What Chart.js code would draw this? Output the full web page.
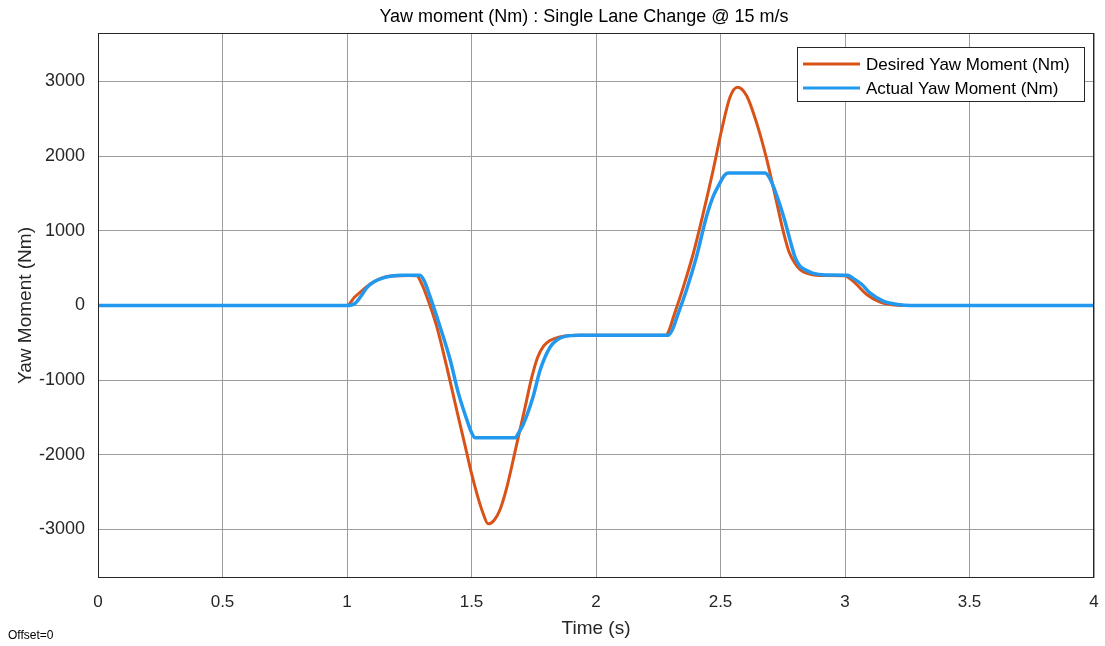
<!DOCTYPE html>
<html>
<head>
<meta charset="utf-8">
<script src="https://cdn.jsdelivr.net/npm/chart.js@4"></script>
<style>
  html, body { margin: 0; padding: 0; background: #ffffff; }
  canvas { display: block; }
</style>
</head>
<body>
<canvas id="yawChart" width="1105" height="646"></canvas>
<script>
// time stamps (s) and yaw moment (Nm) for the two signals
const desiredTime = [0, 1.0, 1.03, 1.066, 1.1, 1.133, 1.17, 1.213, 1.25, 1.28, 1.3, 1.32, 1.36, 1.4, 1.44, 1.48, 1.5, 1.525,
  1.545, 1.567, 1.59, 1.614, 1.64, 1.66, 1.68, 1.7, 1.72, 1.74, 1.765, 1.79, 1.815, 1.85, 1.882, 1.92, 2.28, 2.295, 2.31,
  2.351, 2.391, 2.431, 2.471, 2.505, 2.538, 2.568, 2.605, 2.645, 2.686, 2.726, 2.753, 2.775, 2.8, 2.82, 2.84, 2.865,
  2.9, 3.0, 3.02, 3.047, 3.087, 3.141, 3.19, 3.23, 4.0];
const desiredYaw = [0, 0, 110, 214, 300, 360, 392, 400, 402, 400, 290, 125, -277, -813, -1393, -1960, -2250, -2560,
  -2770, -2925, -2880, -2740, -2460, -2180, -1880, -1590, -1290, -990, -700, -540, -470, -425, -405, -400, -400, -320, -165,
  250, 700, 1241, 1821, 2357, 2790, 2925, 2810, 2446, 1955, 1375, 980, 720, 560, 480, 440, 415,
  402, 400, 360, 281, 147, 45, 9, 0, 0];

const actualTime = [0, 1.0, 1.032, 1.055, 1.079, 1.11, 1.146, 1.18, 1.22, 1.293, 1.31, 1.333, 1.373, 1.414, 1.447, 1.481,
  1.5, 1.515, 1.675, 1.69, 1.708, 1.748, 1.775, 1.815, 1.84, 1.869, 1.936, 2.29, 2.31, 2.324, 2.364, 2.404, 2.444, 2.471,
  2.498, 2.515, 2.53, 2.679, 2.695, 2.712, 2.753, 2.786, 2.8, 2.819, 2.845, 2.873, 2.92, 3.01, 3.03, 3.068, 3.1, 3.154,
  3.22, 3.26, 4.0];
const actualYaw = [0, 0, 27, 120, 237, 320, 370, 395, 405, 405, 330, 125, -277, -723, -1170, -1527,
  -1700, -1772, -1772, -1700, -1590, -1214, -870, -560, -470, -420, -400, -400, -300, -165, 214, 660, 1196, 1464,
  1643, 1740, 1775, 1775, 1720, 1598, 1196, 795, 640, 527, 470, 430, 410, 405, 370, 281, 170, 58,
  9, 0, 0];

const xTicks = [0, 0.5, 1, 1.5, 2, 2.5, 3, 3.5, 4];
const yTicks = [-3000, -2000, -1000, 0, 1000, 2000, 3000];

const FONT = '"Liberation Sans", Arial, Helvetica, sans-serif';
const AXIS_COLOR = '#262626';
const GRID_COLOR = '#9c9c9c';

function toPoints(ts, vs) {
  return ts.map((t, i) => ({ x: t, y: vs[i] }));
}

// axes box, title, legend and footer note
const frame = {
  id: 'frame',
  afterDraw(chart) {
    const { ctx, chartArea: a } = chart;
    ctx.save();
    ctx.strokeStyle = AXIS_COLOR;
    ctx.lineWidth = 1;
    ctx.strokeRect(a.left + 0.5, a.top + 0.5, a.right - a.left - 1, a.bottom - a.top - 1);

    ctx.fillStyle = '#000';
    ctx.font = '18px ' + FONT;
    ctx.textAlign = 'center';
    ctx.textBaseline = 'middle';
    ctx.fillText('Yaw moment (Nm) : Single Lane Change @ 15 m/s', 584, 17);

    // legend
    const bx = 797, by = 47, bw = 287, bh = 54;
    ctx.fillStyle = '#fff';
    ctx.fillRect(bx, by, bw, bh);
    ctx.strokeStyle = AXIS_COLOR;
    ctx.strokeRect(bx + 0.5, by + 0.5, bw, bh);
    ctx.font = '17px ' + FONT;
    ctx.textAlign = 'left';
    chart.data.datasets.forEach((ds, i) => {
      const y = by + 17 + i * 24;
      ctx.strokeStyle = ds.borderColor;
      ctx.lineWidth = 3;
      ctx.beginPath();
      ctx.moveTo(803, y);
      ctx.lineTo(860, y);
      ctx.stroke();
      ctx.fillStyle = '#000';
      ctx.fillText(ds.label, 866, y + 1);
    });

    ctx.font = '12px ' + FONT;
    ctx.fillStyle = '#000';
    ctx.fillText('Offset=0', 8, 636);
    ctx.restore();
  }
};

new Chart(document.getElementById('yawChart'), {
  type: 'line',
  data: {
    datasets: [
      {
        label: 'Desired Yaw Moment (Nm)',
        data: toPoints(desiredTime, desiredYaw),
        borderColor: '#d95319',
        borderWidth: 3,
        order: 1
      },
      {
        label: 'Actual Yaw Moment (Nm)',
        data: toPoints(actualTime, actualYaw),
        borderColor: '#2299ee',
        borderWidth: 3.5,
        order: 0
      }
    ]
  },
  options: {
    responsive: false,
    animation: false,
    cubicInterpolationMode: 'monotone',
    elements: { point: { radius: 0 }, line: { fill: false } },
    layout: { padding: { top: 33, right: 11, left: 0, bottom: 0 } },
    plugins: {
      legend: { display: false },
      title: { display: false },
      tooltip: { enabled: false }
    },
    scales: {
      x: {
        type: 'linear',
        min: 0,
        max: 4,
        afterBuildTicks: s => { s.ticks = xTicks.map(v => ({ value: v })); },
        afterFit: s => {
          s.height = 68;
          s.paddingLeft = 0;
          s.paddingRight = 0;
        },
        grid: { color: GRID_COLOR, drawTicks: false },
        border: { display: false },
        ticks: {
          padding: 14,
          color: AXIS_COLOR,
          maxRotation: 0,
          font: { family: FONT, size: 17 },
          callback: v => String(v)
        },
        title: {
          display: true,
          text: 'Time (s)',
          color: AXIS_COLOR,
          font: { family: FONT, size: 19 },
          padding: { top: 0, bottom: 6 }
        }
      },
      y: {
        min: -3650,
        max: 3650,
        afterBuildTicks: s => { s.ticks = yTicks.map(v => ({ value: v })); },
        afterFit: s => { s.width = 98; },
        grid: { color: GRID_COLOR, drawTicks: false },
        border: { display: false },
        ticks: {
          padding: 13,
          color: AXIS_COLOR,
          font: { family: FONT, size: 18 },
          callback: v => String(v)
        },
        title: {
          display: true,
          text: 'Yaw Moment (Nm)',
          color: AXIS_COLOR,
          font: { family: FONT, size: 19 },
          padding: { top: 14, bottom: 0 }
        }
      }
    }
  },
  plugins: [frame]
});
</script>
</body>
</html>
